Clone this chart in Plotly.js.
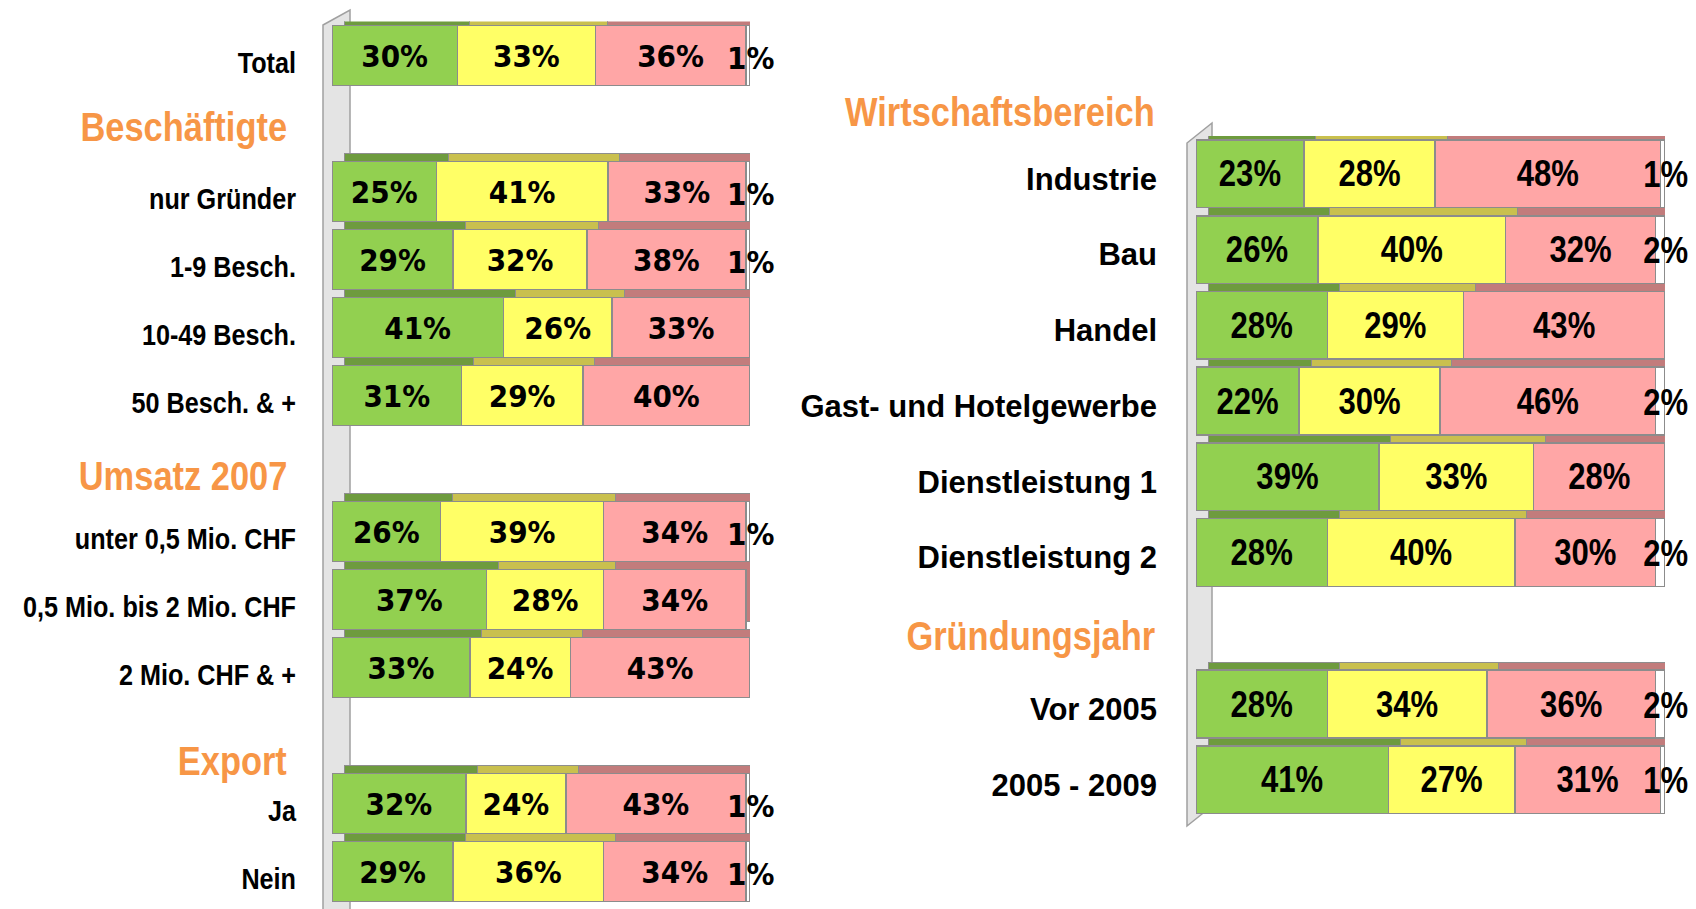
<!DOCTYPE html>
<html><head><meta charset="utf-8">
<script src="https://cdn.plot.ly/plotly-3.0.1.min.js"></script>
<style>html,body{margin:0;padding:0;background:#fff}#chart{width:1696px;height:909px}</style>
</head><body><div id="chart"></div>
<script>
// ---------- data ----------
const leftCategories = ["Total","nur Gründer","1-9 Besch.","10-49 Besch.","50 Besch. & +","unter 0,5 Mio. CHF","0,5 Mio. bis 2 Mio. CHF","2 Mio. CHF & +","Ja","Nein"];
const leftGreen  = [30,25,29,41,31,26,37,33,32,29];
const leftYellow = [33,41,32,26,29,39,28,24,24,36];
const leftPink   = [36,33,38,33,40,34,34,43,43,34];
const leftWhite  = [1,1,1,0,0,1,0,0,1,1];
const leftHeaders = ["Beschäftigte","Umsatz 2007","Export"];
const leftHeaderBefore = [1,5,8];

const rightCategories = ["Industrie","Bau","Handel","Gast- und Hotelgewerbe","Dienstleistung 1","Dienstleistung 2","Vor 2005","2005 - 2009"];
const rightGreen  = [23,26,28,22,39,28,28,41];
const rightYellow = [28,40,29,30,33,40,34,27];
const rightPink   = [48,32,43,46,28,30,36,31];
const rightWhite  = [1,2,0,2,0,2,2,1];
const rightHeaders = ["Wirtschaftsbereich","Gründungsjahr"];
const rightHeaderBefore = [0,6];

// ---------- style ----------
const W = 1696, H = 909;
const frontColors = ['#92D050','#FFFF66','#FFA6A6','#FFFFFF'];
const topColors   = ['#6E9B3E','#C9C04E','#C27C7C','#A8A8A8'];
const NARROW = 'Liberation Sans, Arial Narrow, sans-serif';   // condensed after render
const REG = 'Arial, Liberation Sans, sans-serif';
const COND = 'DejaVu Sans Condensed, DejaVu Sans, sans-serif';
const ORANGE = '#F79646';
const NARROW_FACTOR = 0.84;

function buildSlots(cats, headerBefore){
  const arr = [];
  cats.forEach((c,i)=>{ if(i>0 && headerBefore.includes(i)) arr.push('gap'+i); arr.push(c); });
  return arr;
}
const px = v => v / W;
const py = v => 1 - v / H;

const annotations = [];
function makeChart(cfg){
  const series = [cfg.green, cfg.yellow, cfg.pink, cfg.white];
  const traces = [];
  // 3D top/side faces (drawn on shifted base axes)
  series.forEach((vals,k)=>{
    traces.push({type:'bar', orientation:'h', x:vals, y:cfg.cats, xaxis:cfg.xb, yaxis:cfg.yb,
      width:cfg.width, marker:{color:topColors[k], line:{color:'#8E8E8E', width:1}},
      hoverinfo:'skip', showlegend:false});
  });
  // front faces
  series.forEach((vals,k)=>{
    const t = {type:'bar', orientation:'h', x:vals, y:cfg.cats, xaxis:cfg.xm, yaxis:cfg.ym,
      width:cfg.width, marker:{color:frontColors[k], line:{color:'#8C8C8C', width:1.5}},
      hoverinfo:'skip', showlegend:false};
    if(k<3){
      t.text = vals.map(v=>v+'%');
      t.textposition = 'inside';
      t.insidetextanchor = 'middle';
      t.constraintext = 'none';
      t.textfont = {family:cfg.barFont, size:cfg.barSize, color:'#000', weight:'bold'};
    }
    traces.push(t);
  });
  // small last-segment labels at the bar end
  cfg.white.forEach((v,i)=>{
    if(v>0){
      annotations.push({xref:cfg.xm, yref:cfg.ym, x:cfg.green[i]+cfg.yellow[i]+cfg.pink[i]+v, y:cfg.cats[i],
        text:v+'%', showarrow:false, xanchor:'center', yanchor:'middle', yshift:cfg.smallShift,
        font:{family:cfg.barFont, size:cfg.barSize, color:'#000', weight:'bold'}});
    }
  });
  return traces;
}

const leftSlots = buildSlots(leftCategories, leftHeaderBefore);
const rightSlots = buildSlots(rightCategories, rightHeaderBefore);

// geometry (pixels)
const L = {x0:332, x1:750, top:21.5, bottom:905.7, dx:12, dy:8};
const R = {x0:1196, x1:1665, top:136, bottom:817.6, dx:12, dy:8};
const nL = leftSlots.length, nR = rightSlots.length;
const lSlotPx = (L.bottom-L.top)/nL;
const rSlotPx = (R.bottom-R.top)/nR;
const lShiftX = L.dx/(L.x1-L.x0)*100, rShiftX = R.dx/(R.x1-R.x0)*100;
const lShiftY = L.dy/lSlotPx, rShiftY = R.dy/rSlotPx;

const traces = [].concat(
  makeChart({cats:leftCategories, green:leftGreen, yellow:leftYellow, pink:leftPink, white:leftWhite,
    xb:'x', yb:'y', xm:'x2', ym:'y2', width:0.882, barFont:COND, barSize:31, smallShift:-2}),
  makeChart({cats:rightCategories, green:rightGreen, yellow:rightYellow, pink:rightPink, white:rightWhite,
    xb:'x3', yb:'y3', xm:'x4', ym:'y4', width:0.894, barFont:NARROW, barSize:37, smallShift:-1})
);

const hidden = {visible:false, showgrid:false, zeroline:false, fixedrange:true};
const layout = {
  width:W, height:H, margin:{l:0,r:0,t:0,b:0},
  paper_bgcolor:'#fff', plot_bgcolor:'rgba(0,0,0,0)',
  barmode:'stack', showlegend:false,
  xaxis: Object.assign({domain:[px(L.x0),px(L.x1)], range:[-lShiftX,100-lShiftX], anchor:'y'}, hidden),
  yaxis: Object.assign({domain:[py(L.bottom),py(L.top)], type:'category', categoryorder:'array', categoryarray:leftSlots,
    range:[nL-0.5+lShiftY, -0.5+lShiftY], anchor:'x'}, hidden),
  xaxis2: Object.assign({overlaying:'x', range:[0,100], anchor:'y2'}, hidden),
  yaxis2: {overlaying:'y', anchor:'x2', type:'category', categoryorder:'array', categoryarray:leftSlots,
    range:[nL-0.5,-0.5], showgrid:false, zeroline:false, showline:false, ticks:'', fixedrange:true,
    tickmode:'array', tickvals:leftCategories, ticktext:leftCategories,
    tickfont:{family:NARROW, size:30, color:'#000', weight:'bold'}, ticklabelstandoff:35, ticklabelshift:-7},
  xaxis3: Object.assign({domain:[px(R.x0),px(R.x1)], range:[-rShiftX,100-rShiftX], anchor:'y3'}, hidden),
  yaxis3: Object.assign({domain:[py(R.bottom),py(R.top)], type:'category', categoryorder:'array', categoryarray:rightSlots,
    range:[nR-0.5+rShiftY, -0.5+rShiftY], anchor:'x3'}, hidden),
  xaxis4: Object.assign({overlaying:'x3', range:[0,100], anchor:'y4'}, hidden),
  yaxis4: {overlaying:'y3', anchor:'x4', type:'category', categoryorder:'array', categoryarray:rightSlots,
    range:[nR-0.5,-0.5], showgrid:false, zeroline:false, showline:false, ticks:'', fixedrange:true,
    tickmode:'array', tickvals:rightCategories, ticktext:rightCategories,
    tickfont:{family:REG, size:31, color:'#000', weight:'bold'}, ticklabelstandoff:38, ticklabelshift:-5},
  shapes: [
    {type:'path', xref:'paper', yref:'paper', layer:'below',
     path:`M ${px(323)},${py(25)} L ${px(350)},${py(10)} L ${px(350)},${py(915)} L ${px(323)},${py(915)} Z`,
     fillcolor:'#E4E4E4', line:{color:'#A0A0A0', width:1.5}},
    {type:'path', xref:'paper', yref:'paper', layer:'below',
     path:`M ${px(1187)},${py(143)} L ${px(1212)},${py(123)} L ${px(1212)},${py(806)} L ${px(1187)},${py(826)} Z`,
     fillcolor:'#E4E4E4', line:{color:'#A0A0A0', width:1.5}}
  ],
  annotations: annotations
};
const headerY = {"Beschäftigte":126.5, "Umsatz 2007":476, "Export":761, "Wirtschaftsbereich":111.7, "Gründungsjahr":636};
leftHeaders.forEach(h=>annotations.push({xref:'paper', yref:'paper', x:px(289), y:py(headerY[h]),
  xanchor:'right', yanchor:'middle', text:h, showarrow:false,
  font:{family:NARROW, size:41, color:ORANGE, weight:'bold'}}));
rightHeaders.forEach(h=>annotations.push({xref:'paper', yref:'paper', x:px(1157), y:py(headerY[h]),
  xanchor:'right', yanchor:'middle', text:h, showarrow:false,
  font:{family:NARROW, size:41, color:ORANGE, weight:'bold'}}));

Plotly.newPlot('chart', traces, layout, {staticPlot:true, displayModeBar:false}).then(gd=>{
  // render the "narrow" typeface: condense Liberation Sans Bold horizontally
  gd.querySelectorAll('svg text').forEach(el=>{
    const ff = (el.style.fontFamily || el.getAttribute('font-family') || '');
    if(ff.indexOf('Arial Narrow') >= 0){
      const w = el.getComputedTextLength();
      if(w > 0){
        el.setAttribute('textLength', (w*NARROW_FACTOR).toFixed(2));
        el.setAttribute('lengthAdjust', 'spacingAndGlyphs');
        // right-anchored headers: keep their right edge in place
        if(el.classList.contains('annotation-text') && (el.style.fill||'').indexOf('247') >= 0){
          const dx = w*(1-NARROW_FACTOR)/2;
          [el].concat(Array.from(el.querySelectorAll('tspan'))).forEach(n=>{
            const xv = n.getAttribute('x');
            if(xv !== null) n.setAttribute('x', (parseFloat(xv)+dx).toFixed(2));
          });
        }
      }
    }
  });
});
</script>
</body></html>
